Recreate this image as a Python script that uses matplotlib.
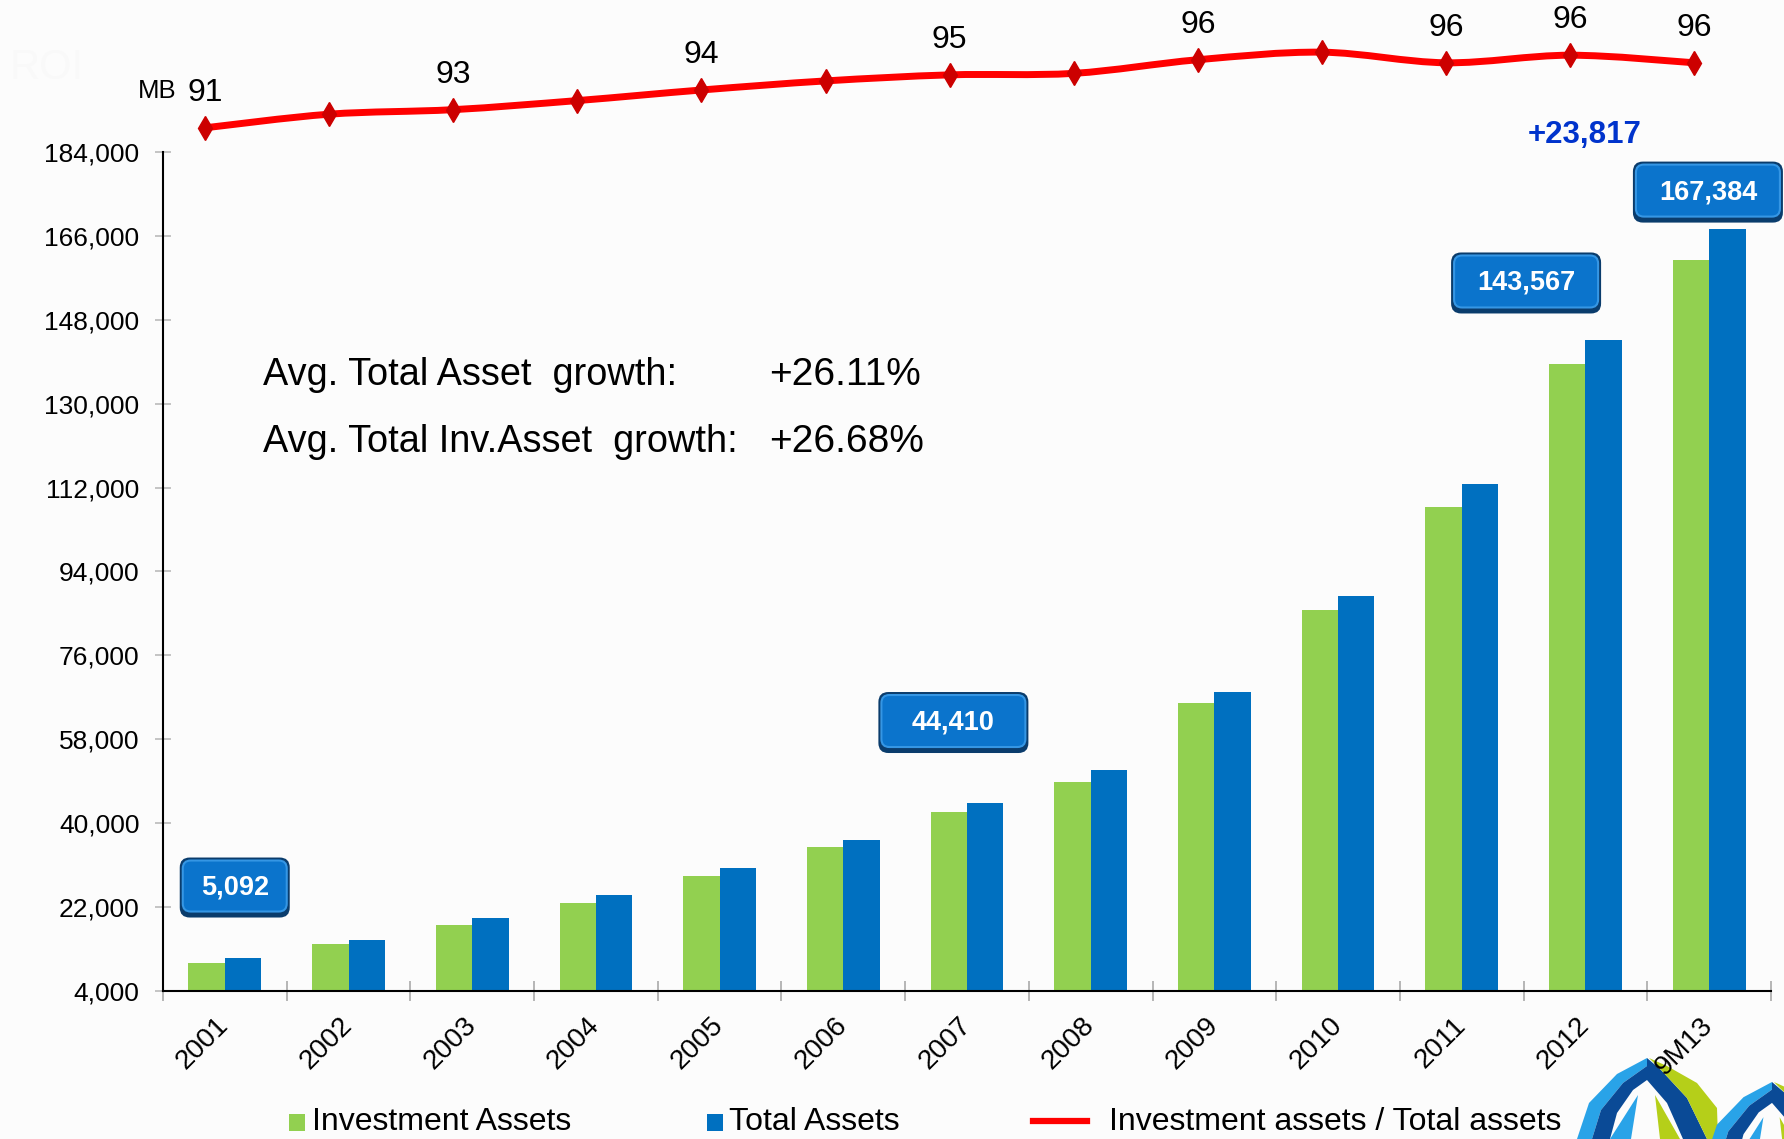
import numpy as np
import matplotlib
matplotlib.use('Agg')
import matplotlib.pyplot as plt
from matplotlib.patches import FancyBboxPatch, Rectangle, PathPatch, Polygon
from matplotlib.path import Path
from matplotlib.lines import Line2D
from matplotlib.ticker import FuncFormatter
from matplotlib.transforms import IdentityTransform

plt.rcParams['font.family'] = ['Liberation Sans', 'DejaVu Sans']

# --- data (MB) ---
years = ['2001', '2002', '2003', '2004', '2005', '2006', '2007',
         '2008', '2009', '2010', '2011', '2012', '9M13']
investment_assets = [10100, 14000, 18200, 22800, 28700, 34800, 42300,
                     48900, 65800, 85800, 107800, 138600, 160800]
total_assets = [11100, 15000, 19600, 24500, 30400, 36500, 44410,
                51400, 68200, 88700, 112700, 143567, 167384]
# investment assets / total assets (%)
inv_ratio = [91.4, 92.3, 92.6, 93.2, 93.9, 94.5, 94.9,
             95.0, 95.9, 96.4, 95.7, 96.2, 95.7]
ratio_labelled = [0, 2, 4, 6, 8, 10, 11, 12]
y_ticks = list(range(4000, 184001, 18000))

callout_labels = ['5,092', '44,410', '143,567', '167,384']
growth_label = '+23,817'
avg_lines = [('Avg. Total Asset  growth:', '+26.11%'),
             ('Avg. Total Inv.Asset  growth:', '+26.68%')]

GREEN = '#92d050'
BLUE = '#0070c0'
RED = '#ff0000'

W, H = 1784, 1139
fig = plt.figure(figsize=(W / 100, H / 100), dpi=100, facecolor='#fcfcfc')


def fx(px):
    return px / W


def fy(py):
    return 1 - py / H


# main bar axes
ax = fig.add_axes([fx(163), fy(991), fx(1771) - fx(163), fy(152) - fy(991)])
ax.set_facecolor('none')
x = np.arange(len(years))
bw = 0.294
ax.bar(x - bw / 2, investment_assets, bw, color=GREEN, zorder=2)
ax.bar(x + bw / 2, total_assets, bw, color=BLUE, zorder=2)
ax.set_xlim(-0.5, len(years) - 0.5)
ax.set_ylim(4000, 184000)

for s in ['top', 'right']:
    ax.spines[s].set_visible(False)
for s in ['left', 'bottom']:
    ax.spines[s].set_linewidth(1.5)
    ax.spines[s].set_color('black')

ax.set_yticks(y_ticks)
ax.yaxis.set_major_formatter(FuncFormatter(lambda v, _: f'{int(v):,}'))
ax.tick_params(axis='y', direction='inout', length=12, width=1.2,
               color='#bbbbbb', labelsize=19, pad=11)

ax.set_xticks(x)
ax.set_xticklabels(years, rotation=45, ha='right', va='center',
                   rotation_mode='anchor', fontsize=20)
ax.tick_params(axis='x', which='major', length=0, pad=22)
ax.set_xticks(np.arange(-0.5, len(years)), minor=True)
ax.tick_params(axis='x', which='minor', direction='inout', length=14,
               width=1.2, color='#aaaaaa')

# ratio line on a separate strip above
ax2 = fig.add_axes([fx(163), fy(152), fx(1771) - fx(163), 152 / H])
ax2.set_facecolor('none')
ax2.axis('off')
ax2.set_xlim(-0.34, 12.62)
ax2.set_ylim(89.8, 99.85)


def smooth_path(xs, ys):
    pts = np.column_stack([xs, ys]).astype(float)
    verts = [pts[0]]
    codes = [Path.MOVETO]
    n = len(pts)
    for i in range(n - 1):
        p0 = pts[i - 1] if i > 0 else pts[i]
        p1, p2 = pts[i], pts[i + 1]
        p3 = pts[i + 2] if i + 2 < n else pts[i + 1]
        verts += [p1 + (p2 - p0) / 6, p2 - (p3 - p1) / 6, p2]
        codes += [Path.CURVE4] * 3
    return Path(verts, codes)


ax2.add_patch(PathPatch(smooth_path(x, inv_ratio), facecolor='none',
                        edgecolor=RED, lw=5, clip_on=False))
ax2.plot(x, inv_ratio, linestyle='none', marker='d', ms=12,
         color='#cc0000', clip_on=False)
for i in ratio_labelled:
    ax2.annotate(f'{inv_ratio[i]:.0f}', (i, inv_ratio[i]), xytext=(0, 25),
                 textcoords='offset points', ha='center', va='center',
                 fontsize=23, annotation_clip=False)

fig.text(fx(157), fy(91), 'MB', fontsize=18.5, ha='center', va='center')
fig.text(fx(10), fy(68), 'ROI', fontsize=30, color='#f9f9f9', va='center')


# value callouts
def callout(xc, yv, text, w, h):
    cx, cy = ax.transData.transform((xc, yv))
    base = FancyBboxPatch((cx - w / 2, cy - h / 2), w, h,
                          boxstyle='round,pad=0,rounding_size=10',
                          transform=IdentityTransform(), fc='#0a3c6c',
                          ec='none', clip_on=False, zorder=5)
    body = FancyBboxPatch((cx - w / 2 + 3, cy - h / 2 + 6), w - 6, h - 9,
                          boxstyle='round,pad=0,rounding_size=8',
                          transform=IdentityTransform(), fc='#0b74cc',
                          ec='#3596e4', lw=1.5, clip_on=False, zorder=6)
    ax.add_patch(base)
    ax.add_patch(body)
    ax.text(xc, yv, text, ha='center', va='center', color='white',
            fontsize=19.5, fontweight='bold', zorder=7, clip_on=False)


callout(0.08, 26200, callout_labels[0], 110, 60)
callout(5.89, 61600, callout_labels[1], 150, 61)
callout(10.52, 155900, callout_labels[2], 150, 61)
callout(11.99, 175400, callout_labels[3], 150, 61)
ax.text(10.99, 187700, growth_label, ha='center', va='center',
        color='#0033cc', fontsize=22.5, fontweight='bold', clip_on=False)

for k, (lab, val) in enumerate(avg_lines):
    yy = fy(375 + 67 * k)
    fig.text(fx(263), yy, lab, fontsize=27.3, va='center')
    fig.text(fx(769), yy, val, fontsize=28, va='center')

# legend along the bottom
fig.add_artist(Rectangle((fx(289), fy(1131)), fx(16), 17 / H,
                         transform=fig.transFigure, fc=GREEN, ec='none'))
fig.text(fx(312), fy(1122), 'Investment Assets', fontsize=23, va='center')
fig.add_artist(Rectangle((fx(707), fy(1131)), fx(16), 17 / H,
                         transform=fig.transFigure, fc=BLUE, ec='none'))
fig.text(fx(729), fy(1122), 'Total Assets', fontsize=23, va='center')
fig.add_artist(Line2D([fx(1033), fx(1087)], [fy(1121), fy(1121)],
                      transform=fig.transFigure, color=RED, lw=4.5))
fig.text(fx(1109), fy(1122), 'Investment assets / Total assets',
         fontsize=23, va='center')

# logo fragment, bottom right (kept behind the tick labels)
shapes = [
    ('#29a3e8', [(0, 0), (-30, 16), (-58, 45), (-70, 81), (-55, 81), (-46, 52), (-24, 25), (0, 8)]),
    ('#0a4a96', [(0, 8), (-24, 25), (-46, 52), (-55, 81), (-37, 81), (-30, 55), (-14, 32), (0, 22)]),
    ('#0a4a96', [(0, 0), (0, 22), (20, 45), (36, 81), (60, 81), (40, 40), (14, 12)]),
    ('#b5cf19', [(2, 0), (14, 12), (40, 40), (60, 81), (71, 81), (70, 50), (50, 25), (20, 8)]),
    ('#29a3e8', [(-9, 37), (-16, 81), (-37, 81)]),
    ('#b5cf19', [(8, 37), (33, 81), (13, 81)]),
]
for (px, py, sc) in [(1647, 1058, 1.0), (1772, 1082, 0.95)]:
    for col, pts in shapes:
        poly = [(fx(px + dx * sc), fy(py + dy * sc)) for dx, dy in pts]
        fig.add_artist(Polygon(poly, closed=True, transform=fig.transFigure,
                               fc=col, ec='none', zorder=-1))

fig.savefig('out.png', dpi=100, facecolor=fig.get_facecolor())
